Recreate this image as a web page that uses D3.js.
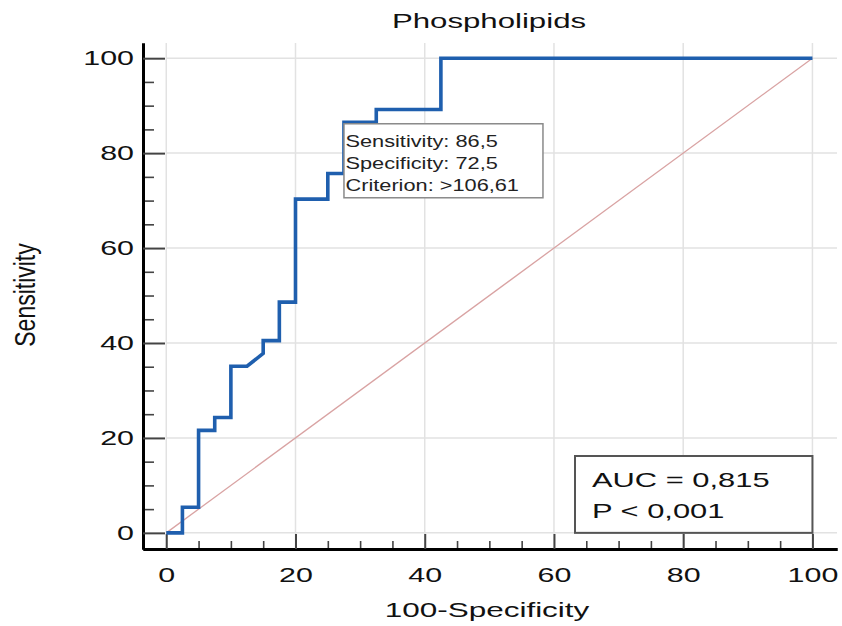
<!DOCTYPE html>
<html>
<head>
<meta charset="utf-8">
<script src="https://cdn.jsdelivr.net/npm/d3@7"></script>
<style>
  body { margin: 0; background: #fff; }
  svg { display: block; font-family: "Liberation Sans", Arial, sans-serif; }
</style>
</head>
<body>
<div id="chart"></div>
<script>
// ROC curve points (100-Specificity, Sensitivity)
const fpr = [0, 2.5, 2.5, 5, 5, 7.5, 7.5, 10, 10, 12.5, 15, 15, 17.5, 17.5, 20, 20, 25, 25, 27.5, 27.5, 32.5, 32.5, 42.5, 42.5, 100];
const tpr = [0, 0, 5.4, 5.4, 21.6, 21.6, 24.3, 24.3, 35.1, 35.1, 37.8, 40.5, 40.5, 48.6, 48.6, 70.3, 70.3, 75.7, 75.7, 86.5, 86.5, 89.2, 89.2, 100, 100];
const majorTicks = [0, 20, 40, 60, 80, 100];
const minorTicks = d3.range(0, 101, 5).filter(v => v % 20 !== 0);
const criterionPoint = [27.5, 86.5];
const criterionLines = ['Sensitivity: 86,5', 'Specificity: 72,5', 'Criterion: >106,61'];
const aucLines = ['AUC = 0,815', 'P < 0,001'];

const width = 842, height = 626;
const svg = d3.select('#chart').append('svg')
    .attr('width', width)
    .attr('height', height);

// the picture is stretched sideways, so text gets a horizontal scale
const x = d3.scaleLinear().domain([-3.6, 103.8]).range([143, 837]);
const y = d3.scaleLinear().domain([-3.4, 103.2]).range([549, 43]);

// grid
const grid = svg.append('g');
grid.selectAll('.gx').data(majorTicks).join('line')
    .attr('x1', d => x(d)).attr('x2', d => x(d))
    .attr('y1', y.range()[0]).attr('y2', y.range()[1])
    .attr('stroke', '#e2e2e2').attr('stroke-width', 1.5);
grid.selectAll('.gy').data(majorTicks).join('line')
    .attr('y1', d => y(d)).attr('y2', d => y(d))
    .attr('x1', x(0)).attr('x2', x.range()[1])
    .attr('stroke', '#e2e2e2').attr('stroke-width', 1.5);

// axes
function styleAxis(g, sw) {
    g.select('.domain').attr('stroke', '#000').attr('stroke-width', 3);
    g.selectAll('.tick line').attr('stroke', '#444').attr('stroke-width', sw);
}

const xMinor = svg.append('g').attr('transform', `translate(0,${y.range()[0]})`)
    .call(d3.axisBottom(x).tickValues(minorTicks).tickSize(-8).tickSizeOuter(0).tickFormat(''));
styleAxis(xMinor, 1.6);
const xMajor = svg.append('g').attr('transform', `translate(0,${y.range()[0]})`)
    .call(d3.axisBottom(x).tickValues(majorTicks).tickSize(-15).tickSizeOuter(0).tickPadding(18));
styleAxis(xMajor, 2);

const yMinor = svg.append('g').attr('transform', `translate(${x.range()[0]},0)`)
    .call(d3.axisLeft(y).tickValues(minorTicks).tickSize(-11).tickSizeOuter(0).tickFormat(''));
styleAxis(yMinor, 1.6);
const yMajor = svg.append('g').attr('transform', `translate(${x.range()[0]},0)`)
    .call(d3.axisLeft(y).tickValues(majorTicks).tickSize(-22).tickSizeOuter(0).tickPadding(6.2));
styleAxis(yMajor, 2);

[xMajor, yMajor].forEach(g => {
    g.attr('font-family', null).attr('font-size', null);
    g.selectAll('.tick text')
        .attr('fill', '#111')
        .attr('font-size', '21px')
        .attr('transform', 'scale(1.45,1)');
});

// reference diagonal
svg.append('line')
    .attr('x1', x(0)).attr('y1', y(0))
    .attr('x2', x(100)).attr('y2', y(100))
    .attr('stroke', '#d9a3a3').attr('stroke-width', 1.3);

// ROC curve
const line = d3.line().x(d => x(d[0])).y(d => y(d[1]));
svg.append('path')
    .datum(d3.zip(fpr, tpr))
    .attr('d', line)
    .attr('fill', 'none')
    .attr('stroke', '#1f5fae')
    .attr('stroke-width', 3.6)
    .attr('stroke-linejoin', 'miter');

// criterion box
const bx = x(criterionPoint[0]), by = y(criterionPoint[1]) + 1.5;
svg.append('rect')
    .attr('x', bx).attr('y', by)
    .attr('width', 199).attr('height', 74)
    .attr('fill', '#fff').attr('stroke', '#8a8a8a').attr('stroke-width', 1.5);
criterionLines.forEach((t, i) => {
    svg.append('text')
        .attr('transform', `translate(${bx + 1.5},${by + 23.5 + i * 22}) scale(1.28,1)`)
        .attr('font-size', '17px')
        .attr('fill', '#222')
        .text(t);
});

// AUC box
const ax0 = 575, ay0 = 456;
svg.append('rect')
    .attr('x', ax0).attr('y', ay0)
    .attr('width', x(100) - ax0).attr('height', y(0) - ay0)
    .attr('fill', '#fff').attr('stroke', '#555').attr('stroke-width', 2);
aucLines.forEach((t, i) => {
    svg.append('text')
        .attr('transform', `translate(${ax0 + 17},${ay0 + 31 + i * 31}) scale(1.47,1)`)
        .attr('font-size', '21px')
        .attr('fill', '#111')
        .text(t);
});

// titles
svg.append('text')
    .attr('transform', 'translate(489,28) scale(1.56,1)')
    .attr('text-anchor', 'middle')
    .attr('font-size', '20px')
    .attr('fill', '#111')
    .text('Phospholipids');

svg.append('text')
    .attr('transform', 'translate(487,617) scale(1.5,1)')
    .attr('text-anchor', 'middle')
    .attr('font-size', '21px')
    .attr('fill', '#111')
    .text('100-Specificity');

svg.append('text')
    .attr('transform', 'translate(35,295) scale(1.25,1) rotate(-90)')
    .attr('text-anchor', 'middle')
    .attr('font-size', '23px')
    .attr('fill', '#111')
    .text('Sensitivity');
</script>
</body>
</html>
